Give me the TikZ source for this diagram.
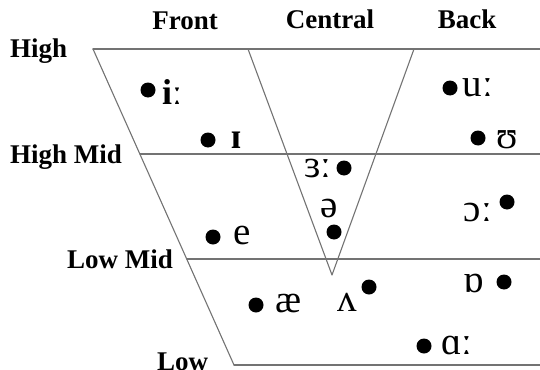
\documentclass[tikz,border=0pt]{standalone}
\usepackage{fontspec}
\setmainfont{Liberation Serif}
\begin{document}
\begin{tikzpicture}[x=1pt, y=-1pt, line cap=round, line join=round,
    grid/.style={draw=black!55, line width=1.1pt},
    place/.style={font=\bfseries\fontsize{27}{27}\selectfont, inner sep=0pt},
    vdot/.style={circle, fill=black, minimum size=15pt, inner sep=0pt},
    vowel/.style={font=\fontsize{39}{39}\selectfont, inner sep=0pt}]
  \useasboundingbox (0,0) rectangle (540,369);

  % Corners of the chart
  \coordinate (hiL) at (93,49);   \coordinate (hiR) at (540,49);
  \coordinate (hmL) at (140,154); \coordinate (hmR) at (540,154);
  \coordinate (lmL) at (187,259); \coordinate (lmR) at (540,259);
  \coordinate (loL) at (234,365); \coordinate (loR) at (540,365);
  \coordinate (cenL) at (248,49); \coordinate (cenR) at (414,49);
  \coordinate (cenV) at (332,275);

  % Lines
  \draw[grid] (hiL) -- (hiR);
  \draw[grid] (hmL) -- (hmR);
  \draw[grid] (lmL) -- (lmR);
  \draw[grid] (loL) -- (loR);
  \draw[grid] (hiL) -- (loL);
  \draw[grid] (cenL) -- (cenV) -- (cenR);

  % Column and row names
  \node[place, anchor=base] (front) at (185,30) {Front};
  \node[place, anchor=base] (central) at (330,29) {Central};
  \node[place, anchor=base] (back) at (467,29) {Back};
  \node[place, anchor=base west] (high) at (10,57) {High};
  \node[place, anchor=base west] (highmid) at (10,163) {High Mid};
  \node[place, anchor=base west] (lowmid) at (67,268) {Low Mid};
  \node[place, anchor=base west] (low) at (157,370) {Low};

  % Vowels
  \node[vdot] (iiDot) at (148,90) {};
  \node[vowel, font=\bfseries\fontsize{36}{36}\selectfont] (ii) at (172,92) {iː};
  \node[vdot] (ihDot) at (208,140) {};
  \node[vowel, font=\bfseries\fontsize{36}{36}\selectfont] (ih) at (236,140) {ɪ};
  \node[vdot] (uuDot) at (450,88) {};
  \node[vowel] (uu) at (478,88) {uː};
  \node[vdot] (uhDot) at (478,138) {};
  \node[vowel] (uh) at (507,140) {ʊ};
  \node[vdot] (erDot) at (344,168) {};
  \node[vowel] (er) at (318,169) {ɜː};
  \node[vowel] (schwa) at (329,208) {ə};
  \node[vdot] (schwaDot) at (334,232) {};
  \node[vdot] (eDot) at (213,237) {};
  \node[vowel] (e) at (242,235) {e};
  \node[vdot] (awDot) at (507,202) {};
  \node[vowel] (aw) at (478,212) {ɔː};
  \node[vdot] (oDot) at (504,282) {};
  \node[vowel] (o) at (474,283) {ɒ};
  \node[vdot] (uhhDot) at (369,287) {};
  \node[vowel] (uhh) at (347,302) {ʌ};
  \node[vdot] (aeDot) at (256,305) {};
  \node[vowel] (ae) at (289,303) {æ};
  \node[vdot] (ahDot) at (424,346) {};
  \node[vowel] (ah) at (457,345) {ɑː};
\end{tikzpicture}
\end{document}
